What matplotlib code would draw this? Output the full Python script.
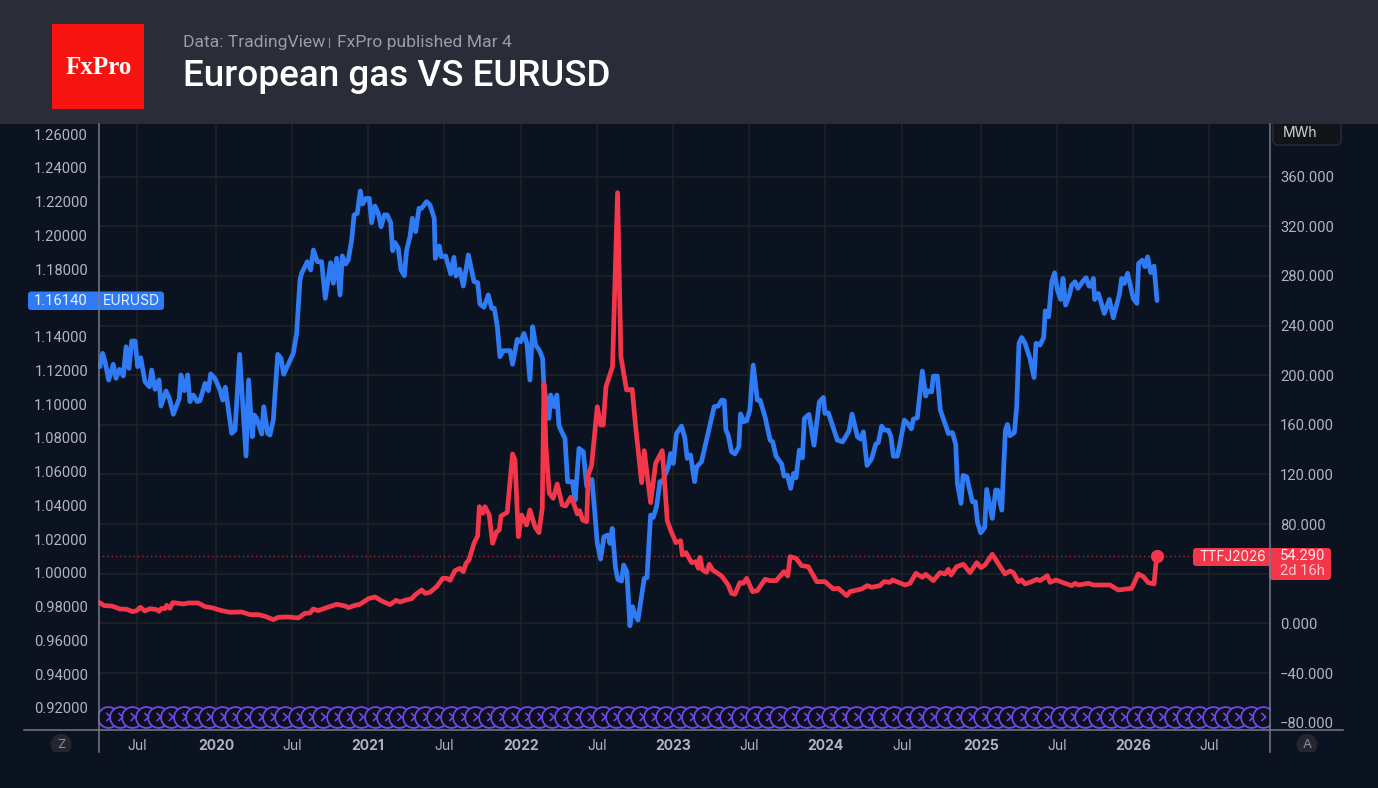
import matplotlib
matplotlib.use("Agg")
import matplotlib.pyplot as plt
from matplotlib.patches import Rectangle, FancyBboxPatch, Circle
from matplotlib.path import Path

# weekly closes, x in fractional years
eur_years = [2019.237,2019.254,2019.270,2019.294,2019.324,2019.342,2019.364,2019.390,2019.408,2019.427,
    2019.445,2019.467,2019.484,2019.504,2019.532,2019.561,2019.576,2019.598,2019.624,2019.637,
    2019.670,2019.692,2019.718,2019.757,2019.768,2019.790,2019.812,2019.827,2019.849,2019.875,
    2019.893,2019.926,2019.948,2019.963,2019.991,2020.024,2020.042,2020.059,2020.101,2020.123,
    2020.153,2020.195,2020.212,2020.236,2020.249,2020.265,2020.298,2020.311,2020.337,2020.352,
    2020.374,2020.403,2020.425,2020.442,2020.505,2020.527,2020.549,2020.560,2020.597,2020.619,
    2020.637,2020.663,2020.691,2020.715,2020.750,2020.768,2020.790,2020.812,2020.827,2020.849,
    2020.866,2020.888,2020.904,2020.925,2020.945,2020.960,2020.982,2021.004,2021.019,2021.041,
    2021.063,2021.081,2021.103,2021.122,2021.144,2021.157,2021.173,2021.194,2021.212,2021.234,
    2021.249,2021.271,2021.286,2021.308,2021.330,2021.347,2021.380,2021.402,2021.430,2021.437,
    2021.463,2021.476,2021.505,2021.538,2021.559,2021.573,2021.597,2021.621,2021.654,2021.691,
    2021.715,2021.730,2021.756,2021.785,2021.807,2021.824,
    2021.844,2021.861,2021.883,2021.927,2021.944,2021.975,2021.997,2022.019,2022.038,2022.058,
    2022.076,2022.095,2022.119,2022.141,2022.150,2022.183,2022.194,2022.216,2022.235,2022.248,
    2022.266,2022.288,2022.305,2022.336,2022.355,2022.380,2022.408,2022.430,2022.465,2022.484,
    2022.500,2022.522,2022.544,2022.572,2022.583,2022.598,2022.620,2022.635,2022.659,2022.673,
    2022.694,2022.714,2022.732,2022.747,2022.767,2022.808,2022.826,2022.850,2022.867,2022.889,
    2022.911,2022.928,2022.966,2022.981,2022.998,2023.020,2023.053,2023.075,2023.090,2023.112,
    2023.138,2023.152,2023.184,2023.267,2023.294,2023.316,2023.333,2023.344,2023.359,2023.381,
    2023.403,2023.429,2023.440,2023.462,2023.480,2023.501,2023.523,2023.550,
    2023.568,2023.601,2023.634,2023.651,2023.673,2023.710,2023.725,2023.747,2023.769,2023.787,
    2023.804,2023.826,2023.846,2023.859,2023.889,2023.922,2023.957,2023.984,2023.994,2024.016,
    2024.075,2024.110,2024.152,2024.172,2024.207,2024.228,2024.246,2024.270,2024.301,2024.327,
    2024.344,2024.366,2024.384,2024.410,2024.427,2024.443,2024.469,2024.482,2024.515,2024.537,
    2024.561,2024.574,2024.600,2024.633,2024.655,2024.668,2024.694,2024.705,2024.731,2024.751,
    2024.804,2024.830,2024.852,2024.863,2024.887,2024.900,2024.924,2024.961,2024.981,2024.994,
    2025.016,2025.042,2025.055,2025.092,2025.114,2025.127,2025.154,2025.178,2025.191,2025.208,
    2025.237,2025.252,2025.267,2025.285,2025.307,2025.339,2025.366,2025.379,2025.405,2025.429,
    2025.440,2025.462,2025.482,2025.501,2025.519,2025.541,2025.556,2025.573,2025.598,2025.613,
    2025.635,2025.654,2025.689,2025.707,2025.727,2025.740,2025.755,2025.764,2025.788,2025.827,
    2025.860,2025.886,2025.926,2025.941,2025.958,2025.980,2026.017,2026.041,2026.052,2026.076,
    2026.094,2026.111,2026.131,2026.153,2026.173]
eur_close = [1.1222,1.1301,1.1252,1.1143,1.1236,1.1153,1.1206,1.1167,1.1340,1.1212,
    1.1374,1.1374,1.1222,1.1275,1.1133,1.1103,1.1202,1.1088,1.1143,1.0989,
    1.1078,1.1034,1.0940,1.1034,1.1173,1.1080,1.1173,1.1015,1.1054,1.1015,
    1.1021,1.1123,1.1080,1.1179,1.1153,1.1084,1.1024,1.1100,1.0827,1.0847,
    1.1295,1.0693,1.1143,1.0807,1.0936,1.0916,1.0823,1.0985,1.0827,1.0817,
    1.0906,1.1295,1.1271,1.1177,1.1301,1.1419,1.1735,1.1775,1.1844,1.1795,
    1.1913,1.1844,1.1844,1.1627,1.1838,1.1716,1.1864,1.1647,1.1878,1.1830,
    1.1854,1.1972,1.2121,1.2130,1.2263,1.2186,1.2219,1.2219,1.2075,1.2174,
    1.2130,1.2051,1.2121,1.2121,1.2075,1.1909,1.1957,1.1923,1.1795,1.1761,
    1.1913,1.1992,1.2101,1.2022,1.2160,1.2160,1.2200,1.2180,1.2101,1.1864,
    1.1937,1.1874,1.1878,1.1771,1.1870,1.1759,1.1799,1.1700,1.1884,1.1726,
    1.1720,1.1593,1.1574,1.1647,1.1568,1.1568,
    1.1459,1.1281,1.1317,1.1317,1.1236,1.1384,1.1370,1.1419,1.1360,1.1143,
    1.1459,1.1350,1.1321,1.1271,1.1103,1.0916,1.1054,1.0985,1.1054,1.0876,
    1.0837,1.0797,1.0541,1.0541,1.0432,1.0738,1.0718,1.0515,1.0554,1.0353,
    1.0175,1.0082,1.0215,1.0225,1.0175,1.0264,1.0027,0.9962,0.9952,1.0047,
    1.0007,0.9687,0.9800,0.9751,0.9721,0.9968,0.9972,1.0343,1.0329,1.0392,
    1.0541,1.0541,1.0629,1.0708,1.0649,1.0827,1.0870,1.0797,1.0679,1.0699,
    1.0541,1.0629,1.0659,1.0985,1.0989,1.1024,1.1021,1.0847,1.0817,1.0718,
    1.0705,1.0748,1.0942,1.0896,1.0902,1.0965,1.1232,1.1024,
    1.1024,1.0925,1.0787,1.0777,1.0692,1.0645,1.0574,1.0580,1.0501,1.0589,
    1.0564,1.0728,1.0682,1.0915,1.0939,1.0757,1.1014,1.1040,1.0945,1.0949,
    1.0787,1.0777,1.0842,1.0941,1.0807,1.0793,1.0836,1.0637,1.0678,1.0763,
    1.0773,1.0870,1.0846,1.0846,1.0807,1.0692,1.0692,1.0747,1.0905,1.0886,
    1.0854,1.0911,1.0919,1.1196,1.1048,1.1079,1.1073,1.1166,1.1166,1.0965,
    1.0826,1.0832,1.0763,1.0530,1.0412,1.0578,1.0570,1.0422,1.0422,1.0303,
    1.0238,1.0270,1.0495,1.0323,1.0491,1.0491,1.0372,1.0846,1.0880,1.0813,
    1.0832,1.0984,1.1360,1.1395,1.1360,1.1271,1.1158,1.1360,1.1350,1.1395,
    1.1553,1.1518,1.1725,1.1778,1.1676,1.1620,1.1745,1.1587,1.1646,1.1705,
    1.1725,1.1686,1.1731,1.1749,1.1699,1.1699,1.1745,1.1620,1.1656,1.1537,
    1.1620,1.1512,1.1650,1.1745,1.1715,1.1775,1.1626,1.1597,1.1834,1.1853,
    1.1814,1.1873,1.1780,1.1818,1.1614]

ttf_years = [2019.230,2019.265,2019.313,2019.368,2019.412,2019.451,2019.477,2019.501,2019.532,2019.565,
    2019.609,2019.624,2019.641,2019.663,2019.674,2019.696,2019.714,2019.784,2019.816,2019.882,
    2019.926,2019.969,2020.035,2020.090,2020.166,2020.221,2020.276,2020.319,2020.374,2020.407,
    2020.472,2020.538,2020.582,2020.615,2020.636,2020.669,2020.724,2020.790,
    2020.845,2020.867,2020.910,2020.943,2020.998,2021.042,2021.085,2021.140,2021.179,2021.206,
    2021.238,2021.282,2021.304,2021.348,2021.370,2021.402,2021.446,2021.486,2021.512,2021.534,
    2021.566,2021.599,2021.621,2021.639,2021.658,2021.691,2021.715,2021.726,2021.748,2021.763,
    2021.791,2021.813,2021.839,2021.857,2021.868,2021.909,2021.944,2021.960,2021.982,2022.003,
    2022.036,2022.058,2022.091,2022.117,2022.139,2022.150,2022.163,2022.185,2022.211,2022.237,
    2022.270,2022.292,2022.325,2022.349,2022.369,2022.384,2022.404,2022.430,2022.441,2022.463,
    2022.500,2022.522,2022.539,2022.557,2022.600,2022.633,2022.655,2022.692,2022.729,2022.754,
    2022.791,2022.808,2022.850,2022.883,2022.926,2022.944,2022.959,2022.981,2023.016,2023.047,
    2023.058,2023.082,2023.119,2023.147,2023.163,2023.173,2023.191,2023.217,2023.235,2023.257,
    2023.316,2023.359,2023.381,2023.403,2023.436,2023.458,2023.480,2023.519,2023.550,
    2023.601,2023.634,2023.673,2023.725,2023.750,2023.765,2023.804,2023.841,2023.885,2023.940,
    2023.994,2024.049,2024.082,2024.137,2024.158,2024.235,2024.272,2024.301,2024.355,2024.382,
    2024.421,2024.438,2024.519,2024.552,2024.591,2024.633,2024.655,2024.705,2024.749,2024.782,
    2024.804,2024.821,2024.858,2024.902,2024.946,2024.990,2025.018,2025.044,2025.092,2025.175,
    2025.208,2025.230,2025.263,2025.285,2025.307,2025.350,2025.383,2025.405,2025.453,2025.471,
    2025.510,2025.569,2025.613,2025.635,2025.657,2025.722,2025.755,2025.864,2025.919,2026.007,
    2026.050,2026.083,2026.116,2026.153,2026.171]
ttf_close = [17.05,14.37,14.10,11.68,11.41,9.53,10.34,13.02,10.07,11.95,
    11.14,9.80,12.22,11.95,14.63,12.22,16.78,15.71,16.51,16.51,
    13.56,12.76,10.34,9.00,9.27,7.12,7.12,5.78,3.09,4.97,
    5.24,4.43,8.19,8.46,11.68,10.34,12.76,15.44,
    14.09,12.75,14.63,15.44,20.00,21.34,18.12,15.17,18.66,17.31,
    18.66,20.00,22.95,26.98,24.29,25.10,29.66,36.37,36.37,34.76,
    42.55,44.43,41.74,48.45,51.14,64.56,70.47,94.09,88.72,94.09,
    87.38,64.56,73.96,75.30,86.57,89.53,136.50,131.67,69.93,87.38,
    79.32,91.40,77.98,73.15,92.75,192.88,142.41,104.83,100.80,112.34,
    95.43,94.63,101.61,95.43,88.18,90.87,83.35,82.01,119.59,127.65,
    174.62,159.86,159.86,190.73,206.84,346.97,214.89,188.05,188.58,155.83,
    113.42,139.19,97.31,128.99,139.19,110.20,82.81,75.30,65.10,66.71,
    55.17,57.04,48.99,49.79,44.43,53.28,43.08,41.20,47.65,43.08,
    38.25,31.00,24.29,23.49,32.88,32.35,36.37,25.63,26.44,
    35.57,34.49,34.49,41.74,38.25,53.82,52.48,46.57,45.77,33.69,
    33.69,27.78,28.32,22.41,25.64,27.78,30.47,29.13,30.47,33.69,
    33.15,35.03,31.00,32.35,40.40,37.18,39.59,34.49,40.94,39.86,
    43.62,39.06,45.77,47.65,40.94,48.99,44.96,47.11,55.70,39.86,
    42.28,40.94,33.69,35.03,31.81,33.69,35.57,34.49,38.52,33.15,
    35.03,32.35,30.47,32.35,31.00,32.35,31.00,31.00,26.98,28.32,
    39.86,37.72,32.88,31.81,54.29]

eur_ticks = [0.92,0.94,0.96,0.98,1.00,1.02,1.04,1.06,1.08,1.10,1.12,1.14,1.16,1.18,1.20,1.22,1.24,1.26]
gas_ticks = [-80,-40,0,40,80,120,160,200,240,280,320,360]
# the weekly scale drifts a bit against the calendar, so label spots are as read
time_ticks = [2019.48,2020.0,2020.497,2020.995,2021.494,2021.999,2022.498,2022.997,2023.496,2023.995,2024.5,2025.018,2025.517,2026.015,2026.514]
time_labels = ["Jul","2020","Jul","2021","Jul","2022","Jul","2023","Jul","2024","Jul","2025","Jul","2026","Jul"]
event_years = [2019,2020,2021,2022,2023,2024,2025,2026]
event_months = [.04,.12,.20,.29,.37,.45,.54,.62,.70,.79,.87,.95]

W, H = 1378, 788
BG = "#0b1320"
HEADER = "#2a2d38"
BLUE = "#2f7bf6"
RED = "#f4364a"
GRID = "#1f2326"
AXIS = "#787b86"
TXT = "#b2b5be"
PURPLE = "#7048e8"
NUM = "Roboto"

plt.rcParams["font.family"] = ["Inter", "DejaVu Sans"]

fig = plt.figure(figsize=(W/100, H/100), dpi=100, facecolor=BG)
left, right, top, bottom = 98.5, 1269.5, 124.0, 729.5
pos = [left/W, 1-bottom/H, (right-left)/W, (bottom-top)/H]

ax = fig.add_axes(pos, facecolor=BG)
ax.set_xlim(2019.227, 2026.911)
ax.set_ylim(-85.4, 402.3)
ax.set_xticks(time_ticks)
ax.set_xticklabels(time_labels)
for lab in ax.get_xticklabels():
    if lab.get_text() != "Jul":
        lab.set_fontweight("bold")
ax.grid(True, color=GRID, lw=1.1)
ax.set_axisbelow(True)
ax.tick_params(axis="x", length=0, labelsize=10, labelcolor=TXT, pad=7)

# monthly event row along the bottom
ev_x = []
for yr in event_years:
    for m in event_months:
        v = yr + m
        if 2019.28 < v < 2026.88:
            ev_x.append(v)
chevron = Path([(-0.45, 1), (0.6, 0), (-0.45, -1)], [Path.MOVETO, Path.LINETO, Path.LINETO])
ev_y = [(bottom-717)/(bottom-top)] * len(ev_x)
tr = ax.get_xaxis_transform()
for i, (a, b) in enumerate(zip(ev_x, ev_y)):
    ax.scatter([a], [b], s=225, facecolor="#0d0f1c", edgecolor=PURPLE, lw=1.3, transform=tr, zorder=2+i*0.001)
ax.scatter(ev_x, ev_y, s=34, marker=chevron, facecolor="none", edgecolor=PURPLE, lw=1.2, transform=tr, zorder=3)

ax_eur = ax.twinx()
ax_eur.set_ylim(0.90726, 1.26597)
ax_eur.yaxis.tick_left()
ax_eur.set_yticks(eur_ticks)
ax_eur.set_yticklabels([f"{v:.5f}" for v in eur_ticks], family=NUM)
ax_eur.tick_params(axis="y", length=0, labelsize=10.6, labelcolor=TXT, pad=7.5)
ax_eur.plot(eur_years, eur_close, color=BLUE, lw=3.4, solid_joinstyle="round", solid_capstyle="round")

# twinx moved the base ticks to the left, put the gas scale back on the right
ax.yaxis.tick_right()
ax.set_yticks(gas_ticks)
ax.set_yticklabels([f"{v:.3f}".replace("-", "\u2212") for v in gas_ticks], family=NUM)
ax.tick_params(axis="y", length=0, labelsize=10.6, labelcolor=TXT, pad=7.5)

ax_gas = ax.twinx()
ax_gas.set_ylim(ax.get_ylim())
ax_gas.set_yticks([])
ax.yaxis.tick_right()
ax_gas.axhline(ttf_close[-1], color=RED, lw=0.9, ls=(0, (1, 2.5)), alpha=0.75)
ax_gas.plot(ttf_years, ttf_close, color=RED, lw=3.4, solid_joinstyle="round", solid_capstyle="round")
ax_gas.plot(ttf_years[-1], ttf_close[-1], "o", color=RED, ms=9.5, mew=0)

for a in (ax, ax_eur, ax_gas):
    for s in a.spines.values():
        s.set_visible(False)

# header, tags and frame lines in pixel coordinates
ov = fig.add_axes([0, 0, 1, 1], zorder=10)
ov.set_xlim(0, W)
ov.set_ylim(H, 0)
ov.axis("off")
ov.patch.set_alpha(0)

ov.add_patch(Rectangle((0, 0), W, top, fc=HEADER, ec="none"))
ov.add_patch(Rectangle((52, 24), 91.5, 85, fc="#f7130f", ec="none"))
ov.text(98.5, 67, "FxPro", color="white", family="Liberation Serif", fontweight="bold", fontsize=18, ha="center", va="center")
ov.text(183, 42.5, "Data: TradingView", color="#9a9da5", family="Roboto", fontsize=12.6, va="center")
ov.plot([328.5, 328.5], [38, 47], color="#8a8d95", lw=0.8)
ov.text(337, 42.5, "FxPro published Mar 4", color="#9a9da5", family="Roboto", fontsize=12.6, va="center")
ov.text(183, 76.5, "European gas VS EURUSD", color="white", family="Roboto", fontweight="medium", fontsize=26.6, va="center")

ov.add_patch(FancyBboxPatch((1273, 118), 68, 27, boxstyle="round,pad=0,rounding_size=5", fc="#121418", ec="#2a2d38", lw=1))
ov.add_patch(Rectangle((1265, 118), 85, 6, fc=HEADER, ec="none"))
ov.text(1300, 132.5, "MWh", color="#d1d4dc", fontsize=10, ha="center", va="center")

ov.add_patch(FancyBboxPatch((28, 291.5), 136, 18.5, boxstyle="round,pad=0,rounding_size=3", fc=BLUE, ec="none"))
ov.text(88, 300.5, f"{eur_close[-1]:.5f}", color="#eaf1ff", family=NUM, fontsize=10.6, ha="right", va="center")
ov.text(103, 301, "EURUSD", color="#eaf1ff", fontsize=10, va="center")

ov.add_patch(FancyBboxPatch((1193, 548), 80, 18, boxstyle="round,pad=0,rounding_size=3", fc=RED, ec="none"))
ov.add_patch(FancyBboxPatch((1269, 548), 62, 32, boxstyle="round,pad=0,rounding_size=3", fc=RED, ec="none"))
ov.text(1199, 557, "TTFJ2026", color="#ffe9eb", fontsize=9.8, va="center")
ov.text(1280, 556.5, f"{ttf_close[-1]:.3f}", color="#ffe9eb", family=NUM, fontsize=10.6, va="center")
ov.text(1280, 571, "2d 16h", color="#fcc6cc", family=NUM, fontsize=10.6, va="center")

ov.plot([24, 1343], [bottom, bottom], color=AXIS, lw=1.1)
ov.plot([left, left], [top, 752], color=AXIS, lw=1.1)
ov.plot([right, right], [top, 752], color=AXIS, lw=1.1)

for cx, s in ((61, "Z"), (1307, "A")):
    c = Circle((cx, 744.5), 10.5, fc="#23262e", ec="none")
    ov.add_patch(c)
    c.set_clip_path(Rectangle((cx-12, 732), 24, 20, transform=ov.transData))
    ov.text(cx, 745, s, color="#8b8e96", fontsize=9.5, ha="center", va="center")

fig.savefig("out.png", dpi=100, facecolor=BG)
